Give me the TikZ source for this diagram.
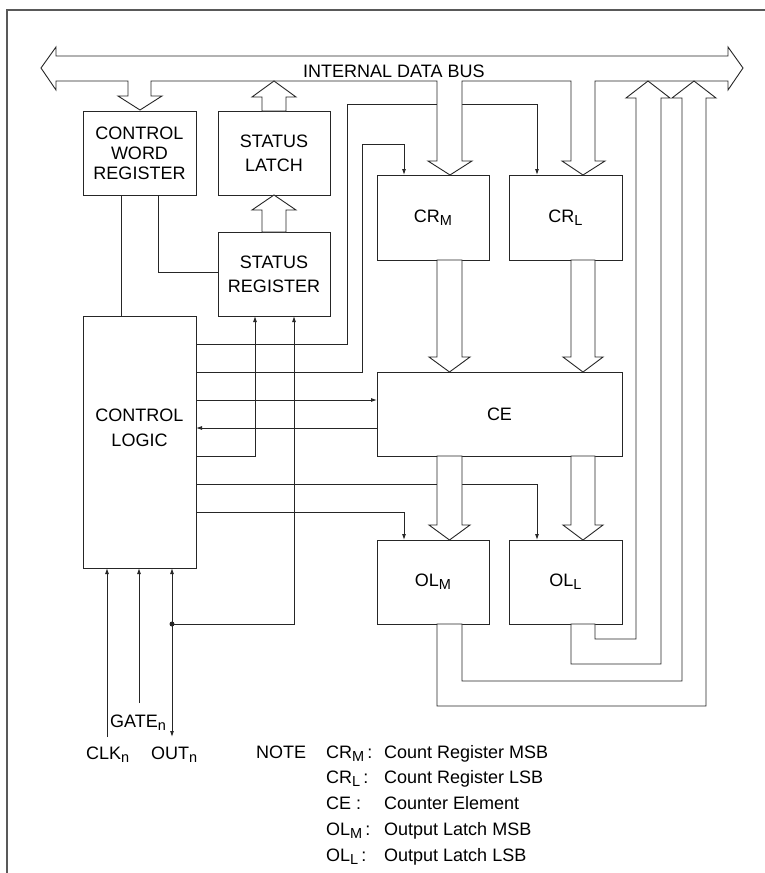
\documentclass[tikz,border=0pt]{standalone}
\usepackage{fontspec}
\setmainfont{Liberation Sans}
\usetikzlibrary{arrows.meta}
\newcommand\sbs[1]{\raisebox{-3pt}{\fontsize{14.5}{14.5}\selectfont #1}}
\begin{document}
\begin{tikzpicture}[x=1pt,y=-1pt,
  ln/.style={line width=0.9pt, draw=black!85},
  sig/.style={ln, -{Latex[length=6pt,width=4pt]}},
  hol/.style={ln, fill=white, line join=miter},
  box/.style={ln, rectangle, inner sep=0pt, outer sep=0pt, anchor=north west,
    align=center, font=\fontsize{18}{24}\selectfont},
  lbl/.style={font=\fontsize{18}{25.5}\selectfont, align=center, inner sep=0pt},
  txt/.style={font=\fontsize{18}{24}\selectfont, inner sep=0pt, anchor=base west}]
\useasboundingbox (0,0) rectangle (765,873);
% frame
\draw[line width=1.2pt, black!65] (765,10) -- (7,10) -- (7,873);
% boxes
\node[box, minimum width=113pt, minimum height=84pt, font=\fontsize{18}{20}\selectfont] (cwr) at (83,111) {CONTROL\\WORD\\REGISTER};
\node[box, minimum width=112pt, minimum height=84pt] (sl) at (218,111) {STATUS\\LATCH};
\node[box, minimum width=112pt, minimum height=84pt] (sr) at (218,232) {STATUS\\REGISTER};
\node[box, minimum width=113pt, minimum height=252pt] (cl) at (83,316) {};
\node[lbl] (cltext) at (139.5,428) {CONTROL\\LOGIC};
\node[box, minimum width=112pt, minimum height=85pt] (crm) at (377,175) {CR\sbs{M}};
\node[box, minimum width=113pt, minimum height=85pt] (crl) at (509,175) {CR\sbs{L}};
\node[box, minimum width=245pt, minimum height=84pt] (ce) at (377,372) {CE};
\node[box, minimum width=112pt, minimum height=84pt] (olm) at (377,540) {OL\sbs{M}};
\node[box, minimum width=113pt, minimum height=84pt] (oll) at (509,540) {OL\sbs{L}};
\coordinate (dot) at (172,624);
% thin connectors
\draw[ln] (121,0 |- cwr.south) -- (121,0 |- cl.north);
\draw[ln] (158,0 |- cwr.south) |- (sr.west |- 0,272);
\draw[sig] (cl.east |- 0,344) -| (347,104) -| (537,0 |- crl.north);
\draw[sig] (cl.east |- 0,372) -| (362,144) -| (404,0 |- crm.north);
\draw[sig] (cl.east |- 0,400) -- (ce.west |- 0,400);
\draw[sig] (ce.west |- 0,428) -- (cl.east |- 0,428);
\draw[sig] (cl.east |- 0,456) -| (255,0 |- sr.south);
\draw[sig] (cl.east |- 0,484) -| (537,0 |- oll.north);
\draw[sig] (cl.east |- 0,512) -| (404,0 |- olm.north);
\draw[sig] (dot) -| (294,0 |- sr.south);
\draw[sig] (107,737) -- (107,0 |- cl.south);
\draw[sig] (139,703) -- (139,0 |- cl.south);
\draw[ln, {Latex[length=6pt,width=4pt]}-{Latex[length=6pt,width=4pt]}] (172,0 |- cl.south) -- (172,737);
\fill[black!85] (dot) circle (2.5);
% internal data bus with its branches
\draw[hol] (41,68) -- (56,47) -- (56,56) -- (728,56) -- (728,47) -- (743,68) -- (728,90) -- (728,81)
 -- (595,81) -- (595,161) -- (605,161) -- (583,175) -- (562,161) -- (571,161) -- (571,81)
 -- (462,81) -- (462,161) -- (472,161) -- (450,175) -- (428,161) -- (437,161) -- (437,81)
 -- (151,81) -- (151,96) -- (162,96) -- (140,110) -- (118,96) -- (128,96) -- (128,81)
 -- (56,81) -- (56,90) -- cycle;
% hollow arrows
\draw[hol] (262,111) -- (262,97) -- (252,97) -- (274,81) -- (296,97) -- (286,97) -- (286,111) -- cycle;
\draw[hol] (262,232) -- (262,210) -- (252,210) -- (274,195) -- (296,210) -- (286,210) -- (286,232) -- cycle;
\draw[hol] (437,260) -- (437,357) -- (429,357) -- (449.5,372) -- (470,357) -- (462,357) -- (462,260) -- cycle;
\draw[hol] (571,260) -- (571,357) -- (563,357) -- (583,372) -- (603,357) -- (595,357) -- (595,260) -- cycle;
\draw[hol] (437,456) -- (437,525) -- (429,525) -- (449.5,540) -- (470,525) -- (462,525) -- (462,456) -- cycle;
\draw[hol] (571,456) -- (571,525) -- (563,525) -- (583,540) -- (603,525) -- (595,525) -- (595,456) -- cycle;
\draw[hol] (595,624) -- (595,639) -- (636,639) -- (636,98) -- (626,98) -- (648,81) -- (670,98) -- (661,98) -- (661,664) -- (571,664) -- (571,624) -- cycle;
\draw[hol] (462,624) -- (462,681) -- (682,681) -- (682,98) -- (672,98) -- (694,81) -- (716,98) -- (706,98) -- (706,706) -- (437,706) -- (437,624) -- cycle;
% texts
\node[txt] (bus) at (303,77) {INTERNAL DATA BUS};
\node[txt] (clk) at (86,759) {CLK\sbs{n}};
\node[txt] (out) at (151,759) {OUT\sbs{n}};
\node[txt] (gate) at (110,727) {GATE\sbs{n}};
\node[txt] (note) at (256,758.5) {NOTE};
\node[txt] (n1) at (326,758.5) {CR\sbs{M}\,:};
\node[txt] (n2) at (326,783.5) {CR\sbs{L}\,:};
\node[txt] (n3) at (326,809) {CE :};
\node[txt] (n4) at (326,835) {OL\sbs{M}\,:};
\node[txt] (n5) at (326,861) {OL\sbs{L}\,:};
\node[txt] (d1) at (384,758.5) {Count Register MSB};
\node[txt] (d2) at (384,783.5) {Count Register LSB};
\node[txt] (d3) at (384,809) {Counter Element};
\node[txt] (d4) at (384,835) {Output Latch MSB};
\node[txt] (d5) at (384,861) {Output Latch LSB};
\end{tikzpicture}
\end{document}
